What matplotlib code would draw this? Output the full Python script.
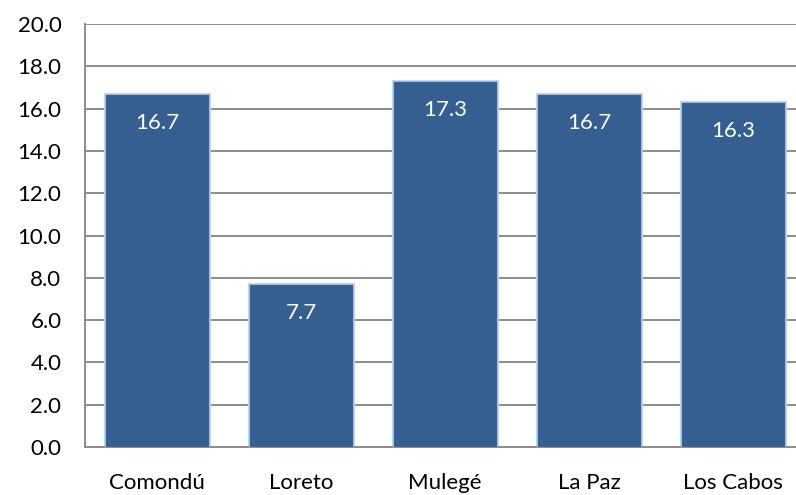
import matplotlib
matplotlib.use("Agg")
import matplotlib.pyplot as plt
import numpy as np

categories = ["Comondú", "Loreto", "Mulegé", "La Paz", "Los Cabos"]
values = [16.7, 7.7, 17.3, 16.7, 16.3]
yticks = [0, 2, 4, 6, 8, 10, 12, 14, 16, 18, 20]

plt.rcParams['font.family'] = ['Lato', 'DejaVu Sans']

fig = plt.figure(figsize=(7.96, 4.95), dpi=100)
W, H = 796, 495
left, right, top, bottom = 85, 805, 24, 447
ax = fig.add_axes([left / W, 1 - bottom / H, (right - left) / W, (bottom - top) / H])

x = np.arange(len(categories))
grid_color = "#8c8c8c"
ax.set_axisbelow(True)
ax.yaxis.grid(True, color=grid_color, linewidth=1.4)
# glow edge
ax.bar(x, values, width=0.72, color="#355f91", edgecolor="#c5d9f1", linewidth=2.2, zorder=2)
ax.bar(x, values, width=0.72, color="#355f91", edgecolor="#9dbbe0", linewidth=0.8, zorder=3)

for xi, v in zip(x, values):
    ax.annotate(f"{v:.1f}", (xi, v), xytext=(0, -21), textcoords="offset points",
                ha="center", va="center", color="white", fontsize=16, zorder=4)

ax.set_xlim(-0.5, len(categories) - 0.5)
ax.set_ylim(0, 20)
ax.set_yticks(yticks)
ax.set_yticklabels([f"{t:.1f}" for t in yticks], fontsize=16)
ax.set_xticks(x)
ax.set_xticklabels(categories, fontsize=16)
ax.tick_params(axis="both", length=0, colors="black")
ax.tick_params(axis="y", pad=17)
ax.tick_params(axis="x", pad=19)
for s in ["top", "right"]:
    ax.spines[s].set_visible(False)
for s in ["left", "bottom"]:
    ax.spines[s].set_color(grid_color)
    ax.spines[s].set_linewidth(1.4)

fig.savefig("out.png", dpi=100)
